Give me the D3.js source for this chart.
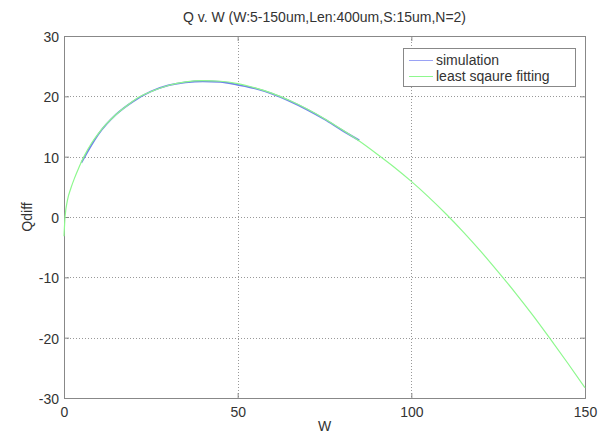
<!DOCTYPE html>
<html>
<head>
<meta charset="utf-8">
<script src="https://cdn.jsdelivr.net/npm/d3@7"></script>
<style>
  body { margin: 0; background: #fff; }
  svg text { font-family: "Liberation Sans", Arial, sans-serif; fill: #333; }
</style>
</head>
<body>
<svg id="chart" width="607" height="438"></svg>
<script>
// fitted curve
var fitW = [0, 0.3, 1, 2, 3, 4, 5, 6, 8, 10, 12, 15, 18, 22, 26, 30, 35, 40, 45, 50, 55, 60, 65, 70, 75, 80, 85, 90, 95, 100, 105, 110, 115, 120, 125, 130, 135, 140, 145, 150];
var fitQ = [-3.2, 0, 2.8, 4.8, 6.4, 7.8, 9.1, 10.3, 12.3, 13.9, 15.3, 17.0, 18.4, 20.0, 21.0, 21.8, 22.4, 22.6, 22.5, 22.1, 21.4, 20.5, 19.3, 17.9, 16.3, 14.5, 12.6, 10.5, 8.3, 5.9, 3.3, 0.5, -2.5, -5.7, -9.1, -12.6, -16.3, -20.2, -24.2, -28.3];

// simulation points
var simW = [5, 10, 15, 20, 25, 30, 35, 40, 45, 50, 55, 60, 65, 70, 75, 80, 85];
var simQ = [9.0, 13.8, 17.0, 19.2, 20.8, 21.8, 22.3, 22.5, 22.4, 21.9, 21.3, 20.4, 19.2, 17.8, 16.2, 14.4, 12.7];

var xTicks = [0, 50, 100, 150];
var yTicks = [-30, -20, -10, 0, 10, 20, 30];
var seriesNames = ["simulation", "least sqaure fitting"];
var seriesColors = ["#6f82ea", "#8ef88e"];

var svg = d3.select("#chart");
var margin = {top: 36, right: 22, bottom: 40, left: 64};
var width = 607 - margin.left - margin.right,
    height = 438 - margin.top - margin.bottom;

var g = svg.append("g").attr("transform", "translate(" + margin.left + "," + margin.top + ")");

var x = d3.scaleLinear().domain([0, 150]).range([0, width]);
var y = d3.scaleLinear().domain([-30, 30]).range([height, 0]);

// grid
g.selectAll(".gx").data(xTicks.slice(1, -1)).enter().append("line")
  .attr("x1", function(d) { return Math.round(x(d)) + 0.5; }).attr("x2", function(d) { return Math.round(x(d)) + 0.5; })
  .attr("y1", 0).attr("y2", height)
  .attr("stroke", "#999").attr("stroke-dasharray", "1,2");
g.selectAll(".gy").data(yTicks.slice(1, -1)).enter().append("line")
  .attr("y1", function(d) { return Math.round(y(d)) + 0.5; }).attr("y2", function(d) { return Math.round(y(d)) + 0.5; })
  .attr("x1", 0).attr("x2", width)
  .attr("stroke", "#999").attr("stroke-dasharray", "1,2");

// axes, ticks inward
var fmt = function(d) { return String(d); };
var xAxis = g.append("g").attr("transform", "translate(0," + height + ")")
  .call(d3.axisBottom(x).tickValues(xTicks).tickSize(-5).tickPadding(9).tickFormat(fmt));
var yAxis = g.append("g")
  .call(d3.axisLeft(y).tickValues(yTicks).tickSize(-5).tickPadding(5).tickFormat(fmt));
g.append("g").call(d3.axisTop(x).tickValues(xTicks).tickSize(-5).tickFormat(""));
g.append("g").attr("transform", "translate(" + width + ",0)")
  .call(d3.axisRight(y).tickValues(yTicks).tickSize(-5).tickFormat(""));
g.selectAll(".domain").attr("stroke", "#888");
g.selectAll(".tick line").attr("stroke", "#888");
g.selectAll(".tick text").style("font-size", "14px").attr("fill", "#333");
yAxis.selectAll(".tick text").attr("dy", "0.4em");

// lines
var simData = simW.map(function(w, i) { return [w, simQ[i]]; });
var fitData = fitW.map(function(w, i) { return [w, fitQ[i]]; });
var line = d3.line()
  .x(function(d) { return x(d[0]); })
  .y(function(d) { return y(d[1]); })
  .curve(d3.curveMonotoneX);

g.append("path").datum(simData).attr("d", line)
  .attr("fill", "none").attr("stroke", seriesColors[0]).attr("stroke-width", 1.8);
g.append("path").datum(fitData).attr("d", line)
  .attr("fill", "none").attr("stroke", seriesColors[1]).attr("stroke-width", 1.2);

// legend
var leg = g.append("g").attr("transform", "translate(" + (x(97.6)) + ",12)");
leg.append("rect").attr("x", 0.5).attr("y", 0.5).attr("width", 172).attr("height", 38)
  .attr("fill", "#fff").attr("stroke", "#888");
seriesNames.forEach(function(name, i) {
  var ly = 12 + i * 16;
  leg.append("line").attr("x1", 6).attr("x2", 30).attr("y1", ly + 0.5).attr("y2", ly + 0.5)
    .attr("stroke", i == 0 ? "#9aa2f5" : seriesColors[1]).attr("stroke-width", 1);
  leg.append("text").attr("x", 33).attr("y", ly).attr("dy", "0.35em")
    .style("font-size", "14px").text(name);
});

// title and labels
svg.append("text").attr("x", margin.left + width / 2).attr("y", 22)
  .attr("text-anchor", "middle").style("font-size", "14px")
  .text("Q v. W (W:5-150um,Len:400um,S:15um,N=2)");
svg.append("text").attr("x", margin.left + width / 2).attr("y", 431)
  .attr("text-anchor", "middle").style("font-size", "14px").text("W");
svg.append("text").attr("transform", "translate(32," + (margin.top + height / 2) + ") rotate(-90)")
  .attr("text-anchor", "middle").style("font-size", "14px").text("Qdiff");
</script>
</body>
</html>
